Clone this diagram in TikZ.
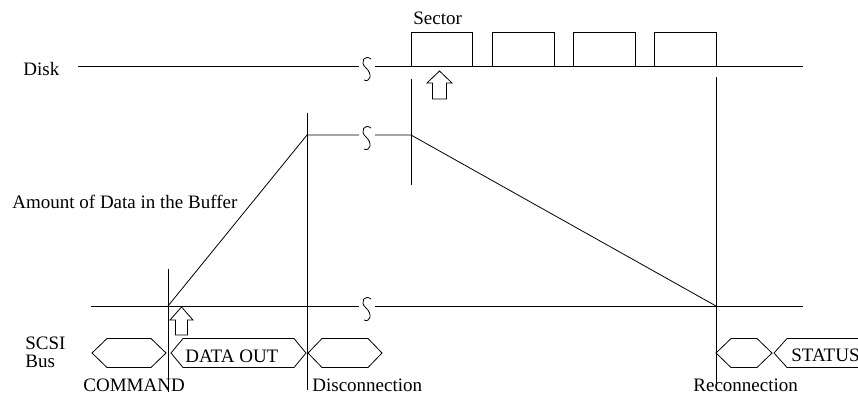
\documentclass[tikz,border=0pt]{standalone}
\usepackage{fontspec}
\setmainfont{Liberation Serif}
\newcommand\hexshape[3]{% left tip, right tip, slant
  \draw (#1,353) -- (#1+#3,338.5) -- (#2-#3,338.5) -- (#2,353) -- (#2-#3,367.5) -- (#1+#3,367.5) -- cycle;}
\newcommand\blockup[6]{% tip x, tip y, head base y, head half width, shaft half width, bottom y
  \draw (#1,#2) -- (#1+#4,#3) -- (#1+#5,#3) -- (#1+#5,#6) -- (#1-#5,#6) -- (#1-#5,#3) -- (#1-#4,#3) -- cycle;}
\begin{document}
\begin{tikzpicture}[x=1pt,y=-1pt,line width=0.8pt,
  lbl/.style={inner sep=0pt,anchor=base west,font=\fontsize{19}{22}\selectfont},
  brk/.pic={\draw (4,-7) .. controls (-2,-12) and (-8,-4) .. (-1,2) .. controls (6,8) and (3,17) .. (-3,14);}]
\useasboundingbox (0,0) rectangle (858,394);
\clip (0,0) rectangle (858,394);
% labels
\node[lbl] (disk) at (23,75) {Disk};
\node[lbl] (sector) at (413,24) {Sector};
\node[lbl] (amount) at (12,208) {Amount of Data in the Buffer};
\node[lbl] (scsi) at (25,349) {SCSI};
\node[lbl] (bus) at (25,367) {Bus};
\node[lbl] (dataout) at (185,362) {DATA OUT};
\node[lbl] (status) at (791,361) {STATUS};
\node[lbl] (command) at (83,391) {COMMAND};
\node[lbl] (disc) at (312,391) {Disconnection};
\node[lbl] (reconn) at (693,391) {Reconnection};
% disk line with sectors
\draw (78,66) -- (359,66);
\draw (375,66) -- (803,66);
\pic at (367,66) {brk};
\draw (411.5,66) -- (411.5,32) -- (472,32) -- (472,66);
\draw (492,66) -- (492,32) -- (554,32) -- (554,66);
\draw (573,66) -- (573,32) -- (635,32) -- (635,66);
\draw (654,66) -- (654,32) -- (716,32) -- (716,66);
\blockup{439.5}{71}{83}{12.5}{7}{99}
% buffer curve
\draw (168,306) -- (307,135) -- (359,135);
\draw (375,135) -- (411,135) -- (716,306);
\pic at (367,135) {brk};
% baseline
\draw (91,306) -- (359,306);
\draw (375,306) -- (803,306);
\pic at (367,306) {brk};
\blockup{181.5}{307}{320}{11.5}{6}{335}
% vertical markers
\draw (168,269) -- (168,392);
\draw (307,113) -- (307,390);
\draw (411,79) -- (411,185);
\draw (716,77) -- (716,383);
% bus phases
\hexshape{92}{166}{15}
\hexshape{171}{306}{12}
\hexshape{308}{382}{14}
\hexshape{716}{772}{15}
\hexshape{774}{900}{13}
\end{tikzpicture}
\end{document}
